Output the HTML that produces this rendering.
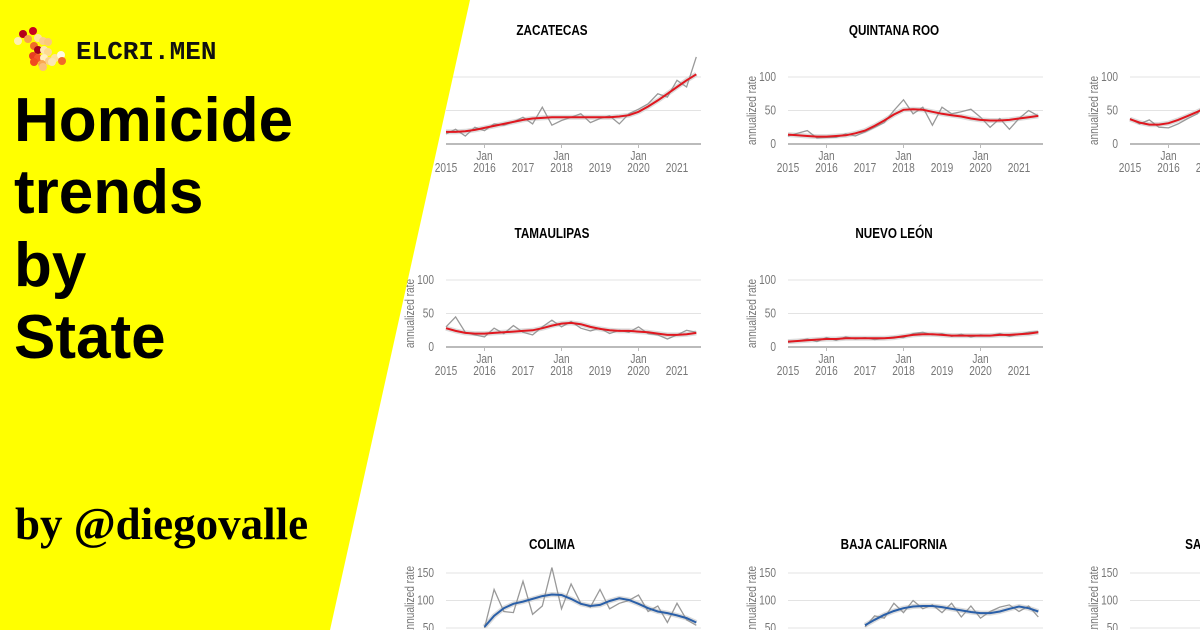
<!DOCTYPE html>
<html><head><meta charset="utf-8"><style>
html,body{margin:0;padding:0;width:1200px;height:630px;overflow:hidden;background:#fff}
svg{display:block}
.tk{font-family:"Liberation Sans Narrow","Liberation Sans",sans-serif;font-size:13px;fill:#777}
.tt{font-family:"Liberation Sans Narrow","Liberation Sans",sans-serif;font-size:15px;font-weight:bold;fill:#000}
</style></head><body>
<svg id="c" width="1200" height="630"></svg>
<script>
const years = ["2015","2016","2017","2018","2019","2020","2021"];
const yTicksSmall = [0,50,100];
const yTicksLarge = [50,100,150];
const zacTrend = [18,18,19,21,24,27,30,33,36,38,39,40,40,40,40,40,40,40,41,43,48,56,65,75,85,95,104];
const zacRaw = [15,22,12,25,20,30,28,33,40,30,55,28,35,40,45,32,38,42,30,45,52,60,75,70,95,85,130];
const qrTrend = [14,13,12,11,11,12,13,16,20,27,35,44,51,52,51,48,45,43,41,38,36,35,35,36,38,40,42];
const qrRaw = [12,16,20,9,10,10,15,12,18,25,32,50,66,45,55,28,55,45,48,52,40,25,38,22,38,50,42];
const c3Trend = [37,32,29,29,31,36,42,48,55,60,63,62,60,57,55,53,52,51,50,50,49,48,47,47,46,46,45];
const c3Raw = [38,30,36,25,24,30,38,45,66,55,62,70,58,52,60,50,55,48,52,46,50,44,49,45,48,42,46];
const tamTrend = [28,24,21,20,20,21,22,23,24,25,28,32,35,36,34,30,27,25,24,24,23,22,20,18,18,19,21];
const tamRaw = [30,45,22,18,15,28,20,32,22,18,30,40,30,38,28,24,28,20,25,22,30,20,18,12,18,25,22];
const nlTrend = [8,9,10,11,12,12,13,13,13,13,13,14,16,18,19,19,18,17,17,17,17,17,18,18,19,20,22];
const nlRaw = [7,9,12,8,14,10,15,12,14,11,13,15,14,20,22,18,20,16,19,15,18,17,20,16,19,22,23];
const colTrend = [null,null,null,null,52,72,86,94,98,103,108,111,110,103,94,90,92,99,104,101,94,86,80,77,73,68,60];
const colRaw = [null,null,null,null,50,120,80,78,135,75,90,160,85,130,95,88,120,85,95,100,110,80,90,60,95,65,55];
const bajaTrend = [null,null,null,null,null,null,null,null,55,65,74,81,86,89,90,90,88,85,82,79,77,77,80,85,89,86,80];
const bajaRaw = [null,null,null,null,null,null,null,null,52,72,68,95,78,100,85,92,78,95,70,90,68,80,88,92,80,90,70];

const svg = document.getElementById('c');
const NS = 'http://www.w3.org/2000/svg';
function mk(tag, attrs, parent){const e=document.createElementNS(NS,tag);for(const k in attrs)e.setAttribute(k,attrs[k]);(parent||svg).appendChild(e);return e;}
function ctext(x,y,anchor,cls,parent,extra){return mk('text',{x:0,y:0,'text-anchor':anchor,class:cls,transform:`translate(${x},${y}) ${extra||''} scale(0.78,1)`},parent);}
const yearPx = 38.5;

const panels = [
 {name:'zacatecas',title:'ZACATECAS',x0:446,y0:144,k:0.67,ticks:yTicksSmall,titleY:35,trend:zacTrend,raw:zacRaw,color:'#e0171f'},
 {name:'quintana-roo',title:'QUINTANA ROO',x0:788,y0:144,k:0.67,ticks:yTicksSmall,titleY:35,trend:qrTrend,raw:qrRaw,color:'#e0171f'},
 {name:'third-state',title:'',x0:1130,y0:144,k:0.67,ticks:yTicksSmall,titleY:35,trend:c3Trend,raw:c3Raw,color:'#e0171f'},
 {name:'tamaulipas',title:'TAMAULIPAS',x0:446,y0:347,k:0.67,ticks:yTicksSmall,titleY:238,trend:tamTrend,raw:tamRaw,color:'#e0171f'},
 {name:'nuevo-leon',title:'NUEVO LEÓN',x0:788,y0:347,k:0.67,ticks:yTicksSmall,titleY:238,trend:nlTrend,raw:nlRaw,color:'#e0171f'},
 {name:'colima',title:'COLIMA',x0:446,y0:655.5,k:0.55,ticks:yTicksLarge,titleY:549,trend:colTrend,raw:colRaw,color:'#2a5fa8'},
 {name:'baja-california',title:'BAJA CALIFORNIA',x0:788,y0:655.5,k:0.55,ticks:yTicksLarge,titleY:549,trend:bajaTrend,raw:bajaRaw,color:'#2a5fa8'},
 {name:'san-luis-potosi',title:'SAN LUIS POTOSÍ',x0:1130,y0:655.5,k:0.55,ticks:yTicksLarge,titleY:549,trend:[],raw:[],color:'#2a5fa8'}
];

function pathFrom(arr, xf, yf){let d='',pen=false;arr.forEach((v,i)=>{if(v==null){pen=false;return;}d+=(pen?'L':'M')+xf(i).toFixed(1)+' '+yf(v).toFixed(1);pen=true;});return d;}

panels.forEach(p=>{
  const g = mk('g',{});
  
  
  const xq = i => p.x0 + i*yearPx/4;
  const ys = v => p.y0 - v*p.k;
  const w = 255;
  if(p.title){
    const t = ctext(p.x0+106,p.titleY,'middle','tt',g);
    t.textContent = p.title;
    
    
  }
  p.ticks.forEach(v=>{
    const y = ys(v);
    const l = mk('line',{x1:p.x0,x2:p.x0+w,y1:y,y2:y,stroke:v===0?'#bbb':'#e3e3e3','stroke-width':v===0?2:1},g);
    
    
    const t = ctext(p.x0-12,y+4,'end','tk',g);
    t.textContent = v;
    
    
  });
  const mid = (ys(p.ticks[0])+ys(p.ticks[2]))/2;
  const at = ctext(p.x0-32,mid,'middle','tk',g,'rotate(-90)');
  at.textContent = 'annualized rate';
  
  
  if(p.ticks[0]===0){
    years.forEach((yr,i)=>{
      const x = p.x0 + i*yearPx;
      const jan = i%2===1;
      if(jan){
        mk('line',{x1:x,x2:x,y1:p.y0,y2:p.y0+4,stroke:'#bbb'},g);
        const t1 = ctext(x,p.y0+16,'middle','tk',g);
        t1.textContent='Jan';
        
        
      }
      const t = ctext(x,p.y0+28,'middle','tk',g);
      t.textContent = yr;
      
      
    });
  }
  const band = mk('path',{d:pathFrom(p.trend,xq,ys),fill:'none',stroke:'#dcdcdc','stroke-width':5,'stroke-linejoin':'round'},g);
  
  
  const raw = mk('path',{d:pathFrom(p.raw,xq,ys),fill:'none',stroke:'#999','stroke-width':1.3},g);
  
  
  const tr = mk('path',{d:pathFrom(p.trend,xq,ys),fill:'none',stroke:p.color,'stroke-width':2},g);
  
  
});
</script>
<svg width="1200" height="630" style="position:absolute;left:0;top:0">
  <polygon points="0,0 470,0 330,630 0,630" fill="#ffff00"/>
  <g>
    <circle cx="23" cy="34" r="4" fill="#b5001a"/><circle cx="33" cy="31" r="4" fill="#c8001f"/>
    <circle cx="18" cy="41" r="4" fill="#fff0b0"/><circle cx="28" cy="39" r="4" fill="#f7a24a"/>
    <circle cx="38" cy="38" r="4" fill="#fde3a0"/><circle cx="43" cy="41" r="4" fill="#fbd08a"/>
    <circle cx="48" cy="42" r="4" fill="#fbc97a"/><circle cx="34" cy="46" r="4" fill="#f06a2a"/>
    <circle cx="38" cy="50" r="4" fill="#a3001c"/><circle cx="44" cy="50" r="4" fill="#fde8b0"/>
    <circle cx="48" cy="52" r="4" fill="#fdda90"/><circle cx="33" cy="56" r="4" fill="#e83d22"/>
    <circle cx="38" cy="58" r="4" fill="#f5552a"/><circle cx="44" cy="58" r="4" fill="#fff0c0"/>
    <circle cx="49" cy="61" r="4" fill="#fbd08a"/><circle cx="55" cy="58" r="4" fill="#fde3a0"/>
    <circle cx="61" cy="55" r="4" fill="#fffbe0"/><circle cx="34" cy="62" r="4" fill="#f04a20"/>
    <circle cx="42" cy="64" r="4" fill="#f9a850"/><circle cx="52" cy="62" r="4" fill="#fbe7b5"/>
    <circle cx="62" cy="61" r="4" fill="#f06a2a"/><circle cx="43" cy="67" r="4" fill="#fbc07a"/>
  </g>
  <text x="76" y="59" font-family="Liberation Mono, monospace" font-weight="bold" font-size="26" fill="#111">ELCRI.MEN</text>
  <g font-family="Liberation Sans, sans-serif" font-weight="bold" font-size="62" fill="#000">
    <text x="14" y="141">Homicide</text>
    <text x="14" y="213">trends</text>
    <text x="14" y="286">by</text>
    <text x="14" y="358">State</text>
  </g>
  <text x="15" y="539" font-family="Liberation Serif, serif" font-weight="bold" font-size="45" fill="#000">by @diegovalle</text>
</svg>
</body></html>
